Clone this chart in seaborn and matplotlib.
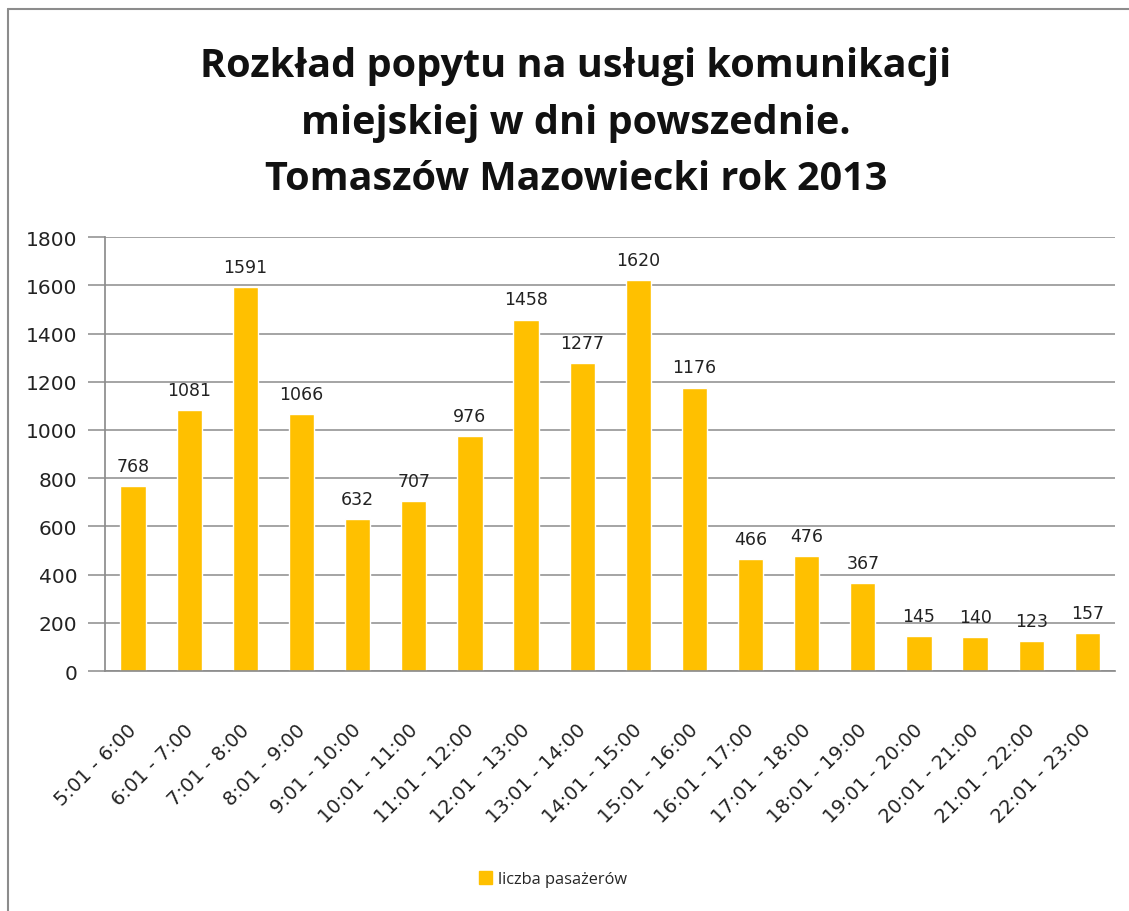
import numpy as np
import pandas as pd
import seaborn as sns
from matplotlib import pyplot as plt
from matplotlib import transforms
from matplotlib.lines import Line2D
from matplotlib.patches import Patch

# Hour ranges and number of passengers
hours = [
    "5:01 - 6:00", "6:01 - 7:00", "7:01 - 8:00", "8:01 - 9:00",
    "9:01 - 10:00", "10:01 - 11:00", "11:01 - 12:00", "12:01 - 13:00",
    "13:01 - 14:00", "14:01 - 15:00", "15:01 - 16:00", "16:01 - 17:00",
    "17:01 - 18:00", "18:01 - 19:00", "19:01 - 20:00", "20:01 - 21:00",
    "21:01 - 22:00", "22:01 - 23:00",
]
passengers = [768, 1081, 1591, 1066, 632, 707, 976, 1458, 1277, 1620,
              1176, 466, 476, 367, 145, 140, 123, 157]
y_ticks = [0, 200, 400, 600, 800, 1000, 1200, 1400, 1600, 1800]

title = ("Rozkład popytu na usługi komunikacji\n"
         "miejskiej w dni powszednie.\n"
         "Tomaszów Mazowiecki rok 2013")
series_name = "liczba pasażerów"

df = pd.DataFrame({"hour": hours, "passengers": passengers})

sns.set_theme(style="white")
plt.rcParams["font.family"] = ["DejaVu Sans"]

fig = plt.figure(figsize=(11.29, 9.12), dpi=100)
ax = fig.add_axes([0.093, 0.263, 0.895, 0.476])

sns.barplot(data=df, x="hour", y="passengers", color="#FFC000",
            saturation=1, width=0.45, ax=ax)

for i, v in enumerate(passengers):
    ax.annotate(str(v), (i, v), xytext=(0, 8), textcoords="offset points",
                ha="center", va="bottom", fontsize=12.5, color="#222222")

ax.set_ylim(0, 1800)
ax.set_yticks(y_ticks)
ax.set_xlim(-0.5, len(hours) - 0.5)
ax.yaxis.grid(True, color="#8c8c8c", linewidth=1.1)
ax.set_axisbelow(True)
for side in ["top", "right"]:
    ax.spines[side].set_visible(False)
ax.spines["left"].set_color("#8c8c8c")
ax.spines["bottom"].set_color("#8c8c8c")
ax.tick_params(axis="y", which="major", left=True, length=12, width=1.1,
               color="#8c8c8c", labelsize=14.5, pad=8, labelcolor="#222222")
ax.tick_params(axis="x", bottom=False, labelsize=14, labelcolor="#222222",
               pad=29)
ax.set_xticks(range(len(hours)))
ax.set_xticklabels(hours, rotation=45, ha="right", rotation_mode="anchor")
# nudge the rotated labels slightly left, like the original
shift = transforms.ScaledTranslation(-6 / 100, 0, fig.dpi_scale_trans)
for lab in ax.get_xticklabels():
    lab.set_transform(lab.get_transform() + shift)
ax.set_xlabel("")
ax.set_ylabel("")

fig.text(0.51, 0.948, title, ha="center", va="top", fontsize=28.5,
         fontweight="bold", family="Open Sans", linespacing=1.58,
         color="#111111")

fig.legend(handles=[Patch(color="#FFC000", label=series_name)],
           loc="center", bbox_to_anchor=(0.49, 0.035), frameon=False,
           handlelength=0.8, handleheight=0.8, handletextpad=0.4,
           prop={"family": "Open Sans", "size": 11.8})

# chart border (only top and left edges are visible in the original)
fig.add_artist(Line2D([0.007, 0.007], [0.0, 0.989], transform=fig.transFigure,
                      color="#8c8c8c", linewidth=1.5))
fig.add_artist(Line2D([0.007, 1.0], [0.989, 0.989], transform=fig.transFigure,
                      color="#8c8c8c", linewidth=1.5))

fig.savefig("out.png", dpi=100)
